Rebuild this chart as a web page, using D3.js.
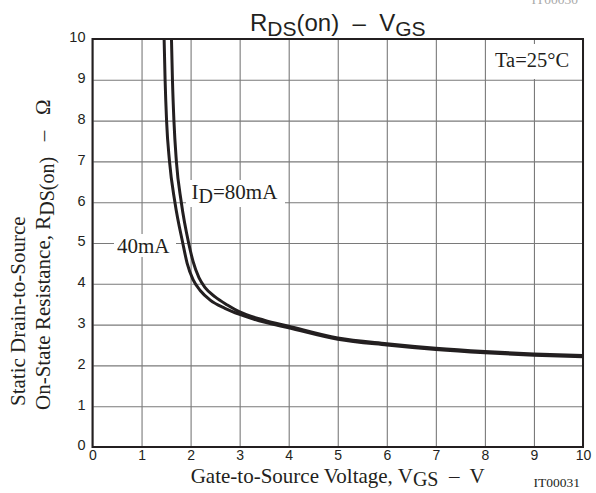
<!DOCTYPE html>
<html><head><meta charset="utf-8">
<script src="https://cdn.jsdelivr.net/npm/d3@7"></script>
<style>body{margin:0;background:#fff}svg{display:block}text{white-space:pre}</style>
</head><body><svg id="c" width="596" height="493"></svg>
<script>
// ---- data ----
const xTicks = [0,1,2,3,4,5,6,7,8,9,10];
const yTicks = [0,1,2,3,4,5,6,7,8,9,10];
// ID = 40mA
const vgs40 = [1.46,1.48,1.51,1.57,1.68,1.84,1.93,2.05,2.2,2.4,2.7,3.0,3.5,4,5,6,7,8,9,10];
const rds40 = [10,9,8,7,6,5,4.5,4.1,3.83,3.6,3.4,3.25,3.06,2.92,2.64,2.50,2.39,2.31,2.25,2.21];
// ID = 80mA
const vgs80 = [1.61,1.63,1.66,1.71,1.81,1.96,2.05,2.17,2.3,2.5,2.75,3.0,3.5,4,5,6,7,8,9,10];
const rds80 = [10,9,8,7,6,5,4.55,4.15,3.9,3.68,3.48,3.31,3.11,2.96,2.67,2.53,2.42,2.34,2.28,2.24];

const serif = "'Liberation Serif','Times New Roman',serif";
const sans = "'Liberation Sans',Arial,Helvetica,sans-serif";
const ink = "#231f20";

const svg = d3.select("#c");
const m = {l:92.5, r:583, t:39, b:447};
const x = d3.scaleLinear().domain([0,10]).range([m.l,m.r]);
const y = d3.scaleLinear().domain([0,10]).range([m.b,m.t]);

// grid + tick labels via axes
const gx = svg.append("g").attr("transform",`translate(0,${m.b})`)
  .call(d3.axisBottom(x).tickValues(xTicks).tickFormat(d3.format("d"))
        .tickSize(-(m.b-m.t)).tickPadding(3));
const gy = svg.append("g").attr("transform",`translate(${m.l},0)`)
  .call(d3.axisLeft(y).tickValues(yTicks).tickFormat(d3.format("d"))
        .tickSize(-(m.r-m.l)).tickPadding(7));
[gx,gy].forEach(g=>{
  g.select(".domain").remove();
  g.selectAll(".tick line").attr("stroke","#7a7a7a").attr("stroke-width",1.1);
  g.selectAll(".tick text").attr("fill",ink).style("font-family",sans).style("font-size","14.5px");
});
gx.selectAll(".tick text").style("font-size","14px");
gy.selectAll(".tick text").attr("dy","0.2em");

// clip
svg.append("clipPath").attr("id","pc").append("rect")
  .attr("x",m.l).attr("y",m.t).attr("width",m.r-m.l).attr("height",m.b-m.t);

const line = d3.line().x(d=>x(d[0])).y(d=>y(d[1])).curve(d3.curveMonotoneX);
const curves = [d3.zip(vgs40,rds40), d3.zip(vgs80,rds80)];
svg.append("g").attr("clip-path","url(#pc)").selectAll("path").data(curves).join("path")
  .attr("d",line).attr("fill","none").attr("stroke",ink).attr("stroke-width",3);

// border
svg.append("rect").attr("x",m.l).attr("y",m.t).attr("width",m.r-m.l).attr("height",m.b-m.t)
  .attr("fill","none").attr("stroke",ink).attr("stroke-width",2);

// annotation labels with white boxes
function boxLabel(bx,by,bw,bh){
  svg.append("rect").attr("x",bx).attr("y",by).attr("width",bw).attr("height",bh).attr("fill","#fff");
}
boxLabel(489,44,89,35);
svg.append("text").attr("x",495).attr("y",66.5).attr("fill",ink)
  .style("font-family",serif).style("font-size","20.5px").text("Ta=25°C");

boxLabel(186,180,99,27);
const t80 = svg.append("text").attr("x",191.5).attr("y",199).attr("fill",ink)
  .style("font-family",serif).style("font-size","21px");
t80.append("tspan").text("I");
t80.append("tspan").attr("dy",4).style("font-size","20px").text("D");
t80.append("tspan").attr("dy",-4).text("=80mA");

boxLabel(114,234,62,23);
svg.append("text").attr("x",117).attr("y",252.5).attr("fill",ink)
  .style("font-family",serif).style("font-size","21px").text("40mA");

// title
const tt = svg.append("text").attr("x",(m.l+m.r)/2).attr("y",31).attr("text-anchor","middle")
  .attr("fill",ink).style("font-family",sans).style("font-size","24px");
tt.append("tspan").text("R");
tt.append("tspan").attr("dy",5).style("font-size","21px").text("DS");
tt.append("tspan").attr("dy",-5).text("(on)  –  V");
tt.append("tspan").attr("dy",5).style("font-size","21px").text("GS");

// x title
const xt = svg.append("text").attr("x",(m.l+m.r)/2).attr("y",482.5).attr("text-anchor","middle")
  .attr("fill",ink).style("font-family",serif).style("font-size","21px");
xt.append("tspan").text("Gate-to-Source Voltage, V");
xt.append("tspan").attr("dy",3).style("font-size","20px").text("GS");
xt.append("tspan").attr("dy",-3).text("  –  V");

// y title (two lines)
svg.append("text").attr("transform","translate(25,406) rotate(-90)").attr("fill",ink)
  .style("font-family",serif).style("font-size","21px").text("Static Drain-to-Source");
const yt = svg.append("text").attr("transform","translate(50,410) rotate(-90)").attr("fill",ink)
  .style("font-family",serif).style("font-size","21px");
yt.append("tspan").text("On-State Resistance, R");
yt.append("tspan").attr("dy",4).style("font-size","20px").text("DS(on)");
yt.append("tspan").attr("dy",-4).text("   –   Ω");

// figure codes
svg.append("text").attr("x",580).attr("y",487).attr("text-anchor","end").attr("fill",ink)
  .style("font-family",serif).style("font-size","13.5px").text("IT00031");
svg.append("text").attr("x",578).attr("y",4).attr("text-anchor","end").attr("fill","#aaa")
  .style("font-family",serif).style("font-size","13.5px").text("IT00030");
</script></body></html>
